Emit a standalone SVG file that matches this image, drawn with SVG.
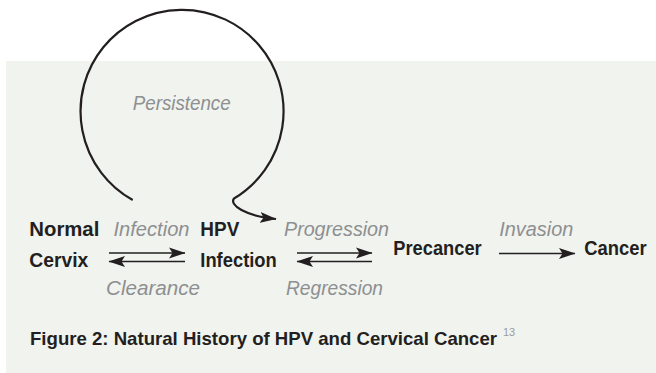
<svg xmlns="http://www.w3.org/2000/svg" width="656" height="373" viewBox="0 0 656 373">
  <style>
    .node { font-family: "Liberation Sans", Arial, sans-serif; font-weight: bold; font-size: 21px; fill: #231f20; }
    .lbl { font-family: "Liberation Sans", Arial, sans-serif; font-style: italic; font-size: 20px; fill: #8d8f91; }
    .cap { font-family: "Liberation Sans", Arial, sans-serif; font-weight: bold; font-size: 18.6px; fill: #231f20; }
    .sup { font-family: "Liberation Sans", Arial, sans-serif; font-weight: normal; font-size: 11px; fill: #9a9c9e; }
    .conn { fill: none; stroke: #231f20; stroke-width: 1.6; }
    .loop { fill: none; stroke: #231f20; stroke-width: 2.2; }
  </style>
  <defs>
    <marker id="ah" markerUnits="userSpaceOnUse" markerWidth="17" markerHeight="12" viewBox="0 0 17 12" refX="16" refY="6" orient="auto">
      <path d="M0,0.5 L16.5,6 L0,11.5 L3.5,6 Z" fill="#231f20"/>
    </marker>
  </defs>
  <rect x="6" y="61" width="650" height="312" fill="#f1f3ee"/>

  <g id="connectors">
    <path id="persistence-loop" class="loop" d="M132.7,200 A101.5,101.5 0 1 1 234,198.5 C229,205 245,216 276,219" marker-end="url(#ah)"/>
    <line id="infection-arrow" class="conn" x1="109" y1="253" x2="185" y2="253" marker-end="url(#ah)"/>
    <line id="clearance-arrow" class="conn" x1="185" y1="261.5" x2="109" y2="261.5" marker-end="url(#ah)"/>
    <line id="progression-arrow" class="conn" x1="297" y1="253" x2="372" y2="253" marker-end="url(#ah)"/>
    <line id="regression-arrow" class="conn" x1="372" y1="261.5" x2="297" y2="261.5" marker-end="url(#ah)"/>
    <line id="invasion-arrow" class="conn" x1="499" y1="253.5" x2="575" y2="253.5" marker-end="url(#ah)"/>
  </g>

  <g id="labels">
    <text class="lbl" x="132.7" y="110" textLength="98" lengthAdjust="spacingAndGlyphs">Persistence</text>
    <text class="lbl" x="113.5" y="236" textLength="76" lengthAdjust="spacingAndGlyphs">Infection</text>
    <text class="lbl" x="106" y="295" textLength="94" lengthAdjust="spacingAndGlyphs">Clearance</text>
    <text class="lbl" x="284" y="236" textLength="105" lengthAdjust="spacingAndGlyphs">Progression</text>
    <text class="lbl" x="286" y="295" textLength="97" lengthAdjust="spacingAndGlyphs">Regression</text>
    <text class="lbl" x="499.3" y="236" textLength="74" lengthAdjust="spacingAndGlyphs">Invasion</text>
  </g>

  <g id="node-normal-cervix">
    <text class="node" x="29.3" y="236" textLength="70" lengthAdjust="spacingAndGlyphs">Normal</text>
    <text class="node" x="29.3" y="267.3" textLength="59" lengthAdjust="spacingAndGlyphs">Cervix</text>
  </g>
  <g id="node-hpv-infection">
    <text class="node" x="200.3" y="236" textLength="39" lengthAdjust="spacingAndGlyphs">HPV</text>
    <text class="node" x="200.3" y="267.3" textLength="76.5" lengthAdjust="spacingAndGlyphs">Infection</text>
  </g>
  <g id="node-precancer">
    <text class="node" x="393.3" y="255" textLength="88.4" lengthAdjust="spacingAndGlyphs">Precancer</text>
  </g>
  <g id="node-cancer">
    <text class="node" x="584.3" y="255" textLength="62.4" lengthAdjust="spacingAndGlyphs">Cancer</text>
  </g>

  <g id="caption">
    <text class="cap" x="30" y="345">Figure 2: Natural History of HPV and Cervical Cancer</text>
    <text class="sup" x="503" y="336">13</text>
  </g>
</svg>
